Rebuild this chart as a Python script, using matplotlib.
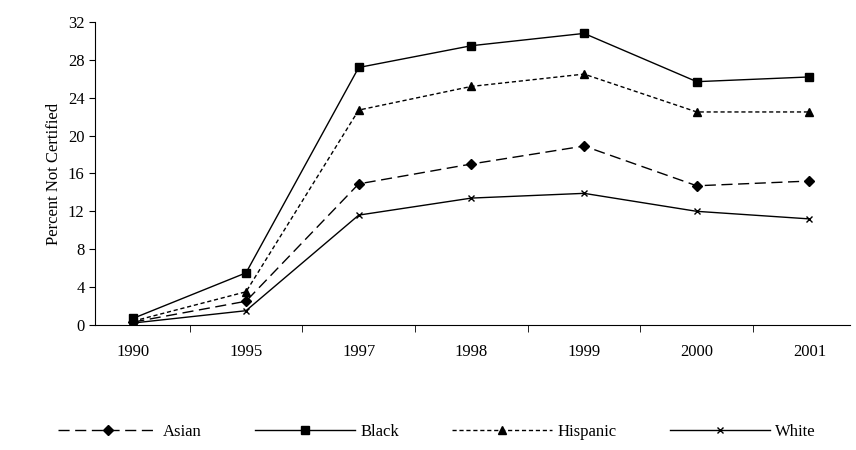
import matplotlib
matplotlib.use('Agg')
import matplotlib.pyplot as plt
import numpy as np

years = ['1990', '1995', '1997', '1998', '1999', '2000', '2001']
asian = [0.3, 2.5, 14.9, 17.0, 18.9, 14.7, 15.2]
black = [0.7, 5.5, 27.2, 29.5, 30.8, 25.7, 26.2]
hispanic = [0.4, 3.5, 22.7, 25.2, 26.5, 22.5, 22.5]
white = [0.2, 1.5, 11.6, 13.4, 13.9, 12.0, 11.2]

plt.rcParams['font.family'] = ['Liberation Serif', 'DejaVu Serif']
fig = plt.figure(figsize=(8.56, 4.5), dpi=100)
ax = fig.add_axes([0.111, 0.278, 0.882, 0.673])
x = np.arange(len(years))
ax.plot(x, asian, color='black', lw=1, ls=(0, (8, 4)), marker='D', ms=5, label='Asian')
ax.plot(x, black, color='black', lw=1, marker='s', ms=6, label='Black')
ax.plot(x, hispanic, color='black', lw=1, ls=(0, (3, 2)), marker='^', ms=6, label='Hispanic')
ax.plot(x, white, color='black', lw=1, marker='x', ms=5, label='White')

ax.set_xlim(-0.34, 6.36)
ax.set_ylim(0, 32)
ax.set_yticks(range(0, 33, 4))
ax.set_xticks(x)
ax.set_xticklabels(years)
ax.tick_params(axis='x', which='major', length=0, pad=14, labelsize=12)
ax.set_xticks([k + 0.5 for k in range(-1, 7) if -0.34 <= k + 0.5 <= 6.36], minor=True)
ax.tick_params(axis='x', which='minor', length=5, direction='out')
ax.tick_params(axis='y', labelsize=12, length=4)
for s in ['top', 'right']:
    ax.spines[s].set_visible(False)
ax.set_ylabel('Percent Not Certified', fontsize=12)
fig.legend(loc='lower center', ncol=4, frameon=False, fontsize=12,
           bbox_to_anchor=(0.51, -0.01), handlelength=6, handletextpad=0.3,
           columnspacing=3.2)
fig.savefig('out.png')
